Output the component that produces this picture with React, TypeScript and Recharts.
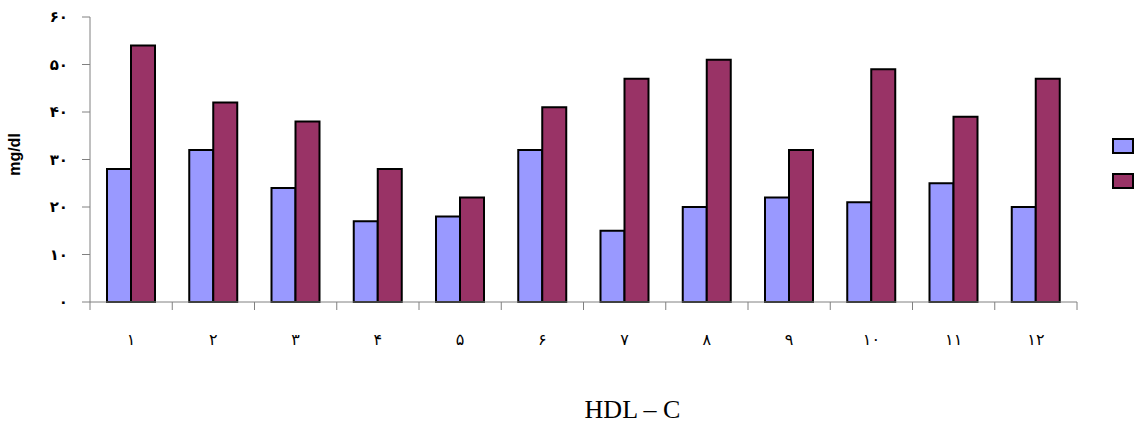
import { BarChart, Bar, XAxis, YAxis, Label } from "recharts";

// category labels (Persian digits)
const categories = ["۱", "۲", "۳", "۴", "۵", "۶", "۷", "۸", "۹", "۱۰", "۱۱", "۱۲"];
const seriesA = [28, 32, 24, 17, 18, 32, 15, 20, 22, 21, 25, 20];
const seriesB = [54, 42, 38, 28, 22, 41, 47, 51, 32, 49, 39, 47];
const yTicks = [0, 10, 20, 30, 40, 50, 60];
const yTickLabels = ["۰", "۱۰", "۲۰", "۳۰", "۴۰", "۵۰", "۶۰"];

const BLUE = "#9999FF";
const PLUM = "#993366";
const AXIS = "#808080";

const data = categories.map((c, i) => ({ name: c, a: seriesA[i], b: seriesB[i] }));

function XTick(props: any) {
  const { x, y, payload, index, visibleTicksCount, width } = props;
  const count = visibleTicksCount || categories.length;
  const bw = (width || 987) / count;
  const left = x - bw / 2;
  return (
    <g>
      <line x1={left} y1={y} x2={left} y2={y + 8} stroke={AXIS} strokeWidth={1} />
      {index === count - 1 && (
        <line x1={x + bw / 2} y1={y} x2={x + bw / 2} y2={y + 8} stroke={AXIS} strokeWidth={1} />
      )}
      <text x={x} y={y + 43} textAnchor="middle" fontSize={16} fontFamily="DejaVu Sans" fill="#000">
        {payload.value}
      </text>
    </g>
  );
}

function LegendBoxes() {
  const box = (color: string) => (
    <div style={{ width: 18, height: 12, background: color, border: "2px solid #000", marginBottom: 19 }} />
  );
  return (
    <div style={{ position: "absolute", left: 1112, top: 138 }}>
      {box(BLUE)}
      {box(PLUM)}
    </div>
  );
}

export default function App() {
  return (
    <div style={{ position: "absolute", left: 0, top: 0, width: 1135, height: 426, background: "#fff" }}>
      <BarChart
        width={1135}
        height={426}
        data={data}
        margin={{ top: 17, right: 58, bottom: 0, left: 0 }}
        barSize={24}
        barGap={0}
      >
        <XAxis
          dataKey="name"
          height={124}
          stroke={AXIS}
          tickLine={false}
          tickSize={0}
          tickMargin={0}
          tick={<XTick />}
          interval={0}
        >
          <Label
            value="HDL – C"
            position="insideBottom"
            offset={8}
            dx={49}
            style={{ fontFamily: "Liberation Serif", fontSize: 26, fill: "#000" }}
          />
        </XAxis>
        <YAxis
          width={90}
          domain={[0, 60]}
          ticks={yTicks}
          interval={0}
          stroke={AXIS}
          tickLine={{ stroke: AXIS, strokeWidth: 1 }}
          tickSize={8}
          tickMargin={14}
          tickFormatter={(v: number) => yTickLabels[yTicks.indexOf(v)]}
          tick={{ fill: "#000", fontSize: 15, fontFamily: "DejaVu Sans", fontWeight: "bold" }}
        >
          <Label
            value="mg/dl"
            angle={-90}
            position="insideLeft"
            offset={14}
            dy={-5}
            style={{ fontFamily: "Liberation Sans", fontSize: 16, fontWeight: "bold", fill: "#000", textAnchor: "middle" }}
          />
        </YAxis>
        <Bar dataKey="a" fill={BLUE} stroke="#000" strokeWidth={2} isAnimationActive={false} />
        <Bar dataKey="b" fill={PLUM} stroke="#000" strokeWidth={2} isAnimationActive={false} />
      </BarChart>
      <LegendBoxes />
    </div>
  );
}
